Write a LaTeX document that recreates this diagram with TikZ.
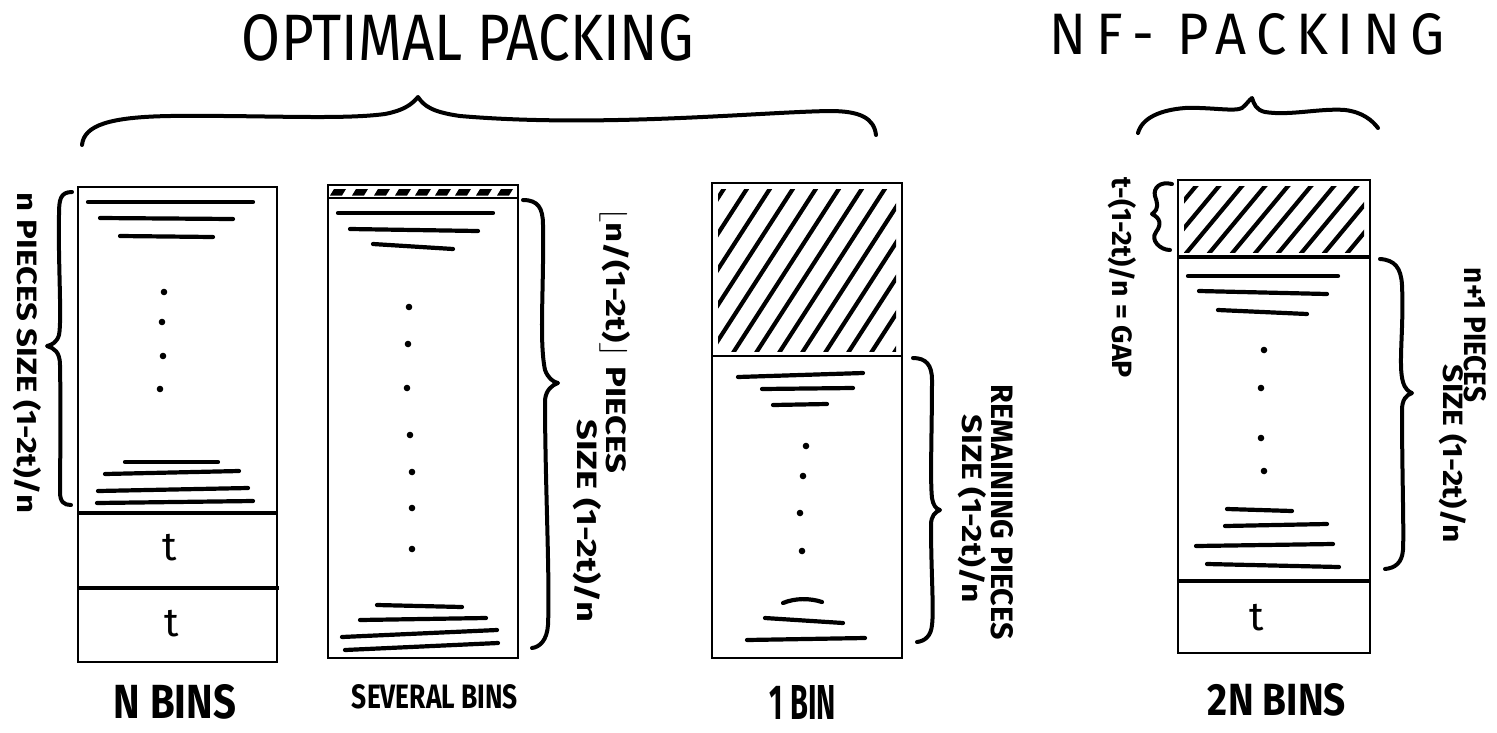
\documentclass[tikz,border=0pt]{standalone}
\usepackage{fontspec}
\setmainfont{Fira Sans}
\usepackage{graphicx}
\newcommand{\fitt}[3]{\resizebox{#1pt}{#2pt}{#3}}
\begin{document}
\begin{tikzpicture}[x=1pt,y=-1pt,
  binbox/.style={line width=2.5pt},
  divider/.style={line width=4pt},
  piece/.style={line width=4.2pt, line cap=round},
  bracestroke/.style={line width=4pt, line cap=round, line join=round},
  hatchline/.style={line width=4.2pt, line cap=round},
  lbl/.style={inner sep=0pt, font=\bfseries},
  ttl/.style={inner sep=0pt},
]
\useasboundingbox (0,0) rectangle (1497,732);

% ---------- titles ----------
\node[ttl] (t1) at (468,38) {\fitt{452}{46}{OPTIMAL PACKING}};
\node[ttl] (t2) at (1247,34) {\fitt{395}{41}{\addfontfeature{LetterSpace=18}NF- PACKING}};

% ---------- top braces ----------
\draw[bracestroke] (82,145) .. controls (84,125) and (110,117) .. (170,116)
  .. controls (260,115) and (340,120) .. (385,114)
  .. controls (405,110) and (412,104) .. (418,97)
  .. controls (424,106) and (432,112) .. (460,116)
  .. controls (600,128) and (760,112) .. (830,111)
  .. controls (860,111) and (874,118) .. (876,135);
\draw[bracestroke] (1138,133) .. controls (1142,118) and (1160,110) .. (1185,108)
  .. controls (1210,107) and (1235,112) .. (1242,108)
  .. controls (1247,104) and (1249,100) .. (1252,98)
  .. controls (1254,104) and (1256,110) .. (1265,112)
  .. controls (1290,116) and (1320,108) .. (1345,110)
  .. controls (1362,112) and (1372,120) .. (1378,128);

% ---------- bin 1 : N bins ----------
\draw[binbox] (78,187) rectangle (277,662);
\draw[divider] (78,513) -- (278,513);
\draw[divider] (78,588) -- (279,588);
\node[inner sep=0pt, font=\fontsize{40}{40}\selectfont] (b1t1) at (170,548) {t};
\node[inner sep=0pt, font=\fontsize{40}{40}\selectfont] (b1t2) at (172,624) {t};
\draw[piece] (88,202) -- (253,202);
\draw[piece] (100,218) -- (233,219);
\draw[piece] (120,236) -- (213,237);
\foreach \p in {(164,292),(162,322),(163,356),(160,389)} \fill \p circle (3.3);
\draw[piece] (125,462) -- (218,462);
\draw[piece] (105,474) -- (239,471);
\draw[piece] (98,491) -- (248,488);
\draw[piece] (97,503) -- (253,501);
\draw[bracestroke] (72,192) .. controls (60,192) and (59,200) .. (59,215)
  .. controls (58,260) and (62,320) .. (59,335)
  .. controls (57,342) and (52,345) .. (47,346)
  .. controls (54,348) and (60,352) .. (60,365)
  .. controls (61,420) and (60,470) .. (60,492)
  .. controls (60,502) and (64,505) .. (71,505);
\node[lbl, rotate=-90] (l1) at (27,353) {\fitt{320}{24}{n PIECES SIZE (1-2t)/n}};
\node[inner sep=0pt, font=\bfseries] (n1) at (175,702) {\fitt{122}{34}{N BINS}};

% ---------- bin 2 : several bins ----------
\draw[binbox] (328,185) rectangle (518,658);
\draw[binbox] (328,198) -- (518,198);
\foreach \c in {338,360,382,403,423,443,463,484,505}
  \fill (\c-8,195.5) -- (\c+4,195.5) -- (\c+8,189) -- (\c-4,189) -- cycle;
\draw[piece] (338,213) -- (493,213);
\draw[piece] (350,229) -- (478,231);
\draw[piece] (373,244) -- (453,249);
\foreach \p in {(409,307),(408,344),(407,388),(410,435),(412,472),(412,508),(412,549)} \fill \p circle (3.3);
\draw[piece] (377,605) -- (462,607);
\draw[piece] (360,620) -- (486,618);
\draw[piece] (342,637) -- (497,630);
\draw[piece] (345,650) -- (498,643);
\draw[bracestroke] (523,200) .. controls (538,200) and (543,208) .. (543,225)
  .. controls (544,290) and (539,340) .. (545,370)
  .. controls (548,378) and (553,382) .. (558,383)
  .. controls (552,385) and (546,390) .. (545,400)
  .. controls (545,480) and (550,580) .. (548,625)
  .. controls (547,640) and (540,647) .. (532,648);
\node[lbl, rotate=-90] (l2a) at (615,340) {\fitt{266}{24}{$\lfloor$n/(1-2t)$\rfloor$ PIECES}};
\node[lbl, rotate=-90] (l2b) at (587,521) {\fitt{203}{24}{SIZE (1-2t)/n}};
\node[lbl] (n2) at (435,697) {\fitt{166}{24}{SEVERAL BINS}};

% ---------- bin 3 : 1 bin ----------
\draw[binbox] (712,183) rectangle (902,658);
\draw[binbox] (712,356) -- (902,356);
\begin{scope}
  \clip (718,189) rectangle (896,351);
  \foreach \k in {-119,-96,...,200} \draw[hatchline] (712+\k,356) -- ++(111.6,-173);
\end{scope}
\draw[piece] (738,377) -- (863,373);
\draw[piece] (762,389) -- (853,388);
\draw[piece] (773,405) -- (827,404);
\foreach \p in {(806,446),(803,476),(800,513),(802,551)} \fill \p circle (3.3);
\draw[piece] (783,603) .. controls (795,598) and (810,598) .. (822,602);
\draw[piece] (765,618) -- (843,623);
\draw[piece] (747,640) -- (865,638);
\draw[bracestroke] (913,358) .. controls (926,358) and (932,365) .. (932,380)
  .. controls (932,430) and (930,480) .. (932,498)
  .. controls (933,505) and (936,509) .. (940,510)
  .. controls (935,512) and (931,516) .. (931,525)
  .. controls (931,570) and (934,610) .. (932,625)
  .. controls (931,636) and (925,641) .. (917,642);
\node[lbl, rotate=-90] (l3a) at (1002,512) {\fitt{255}{22}{REMAINING PIECES}};
\node[lbl, rotate=-90] (l3b) at (972,509) {\fitt{188}{24}{SIZE (1-2t)/n}};
\node[inner sep=0pt, font=\bfseries] (n3) at (803,702) {\fitt{66}{34}{1 BIN}};

% ---------- bin 4 : NF packing ----------
\draw[binbox] (1178,180) rectangle (1370,653);
\draw[divider] (1178,257) -- (1370,257);
\draw[divider] (1178,581) -- (1370,581);
\begin{scope}
  \clip (1184,186) rectangle (1364,252);
  \foreach \k in {-64,-41,...,200} \draw[hatchline] (1178+\k,257) -- ++(64,-77);
\end{scope}
\node[inner sep=0pt, font=\fontsize{40}{40}\selectfont] (b4t) at (1257,618) {t};
\draw[piece] (1188,276) -- (1338,276);
\draw[piece] (1199,291) -- (1327,294);
\draw[piece] (1218,310) -- (1307,314);
\foreach \p in {(1264,350),(1261,388),(1261,438),(1264,471)} \fill \p circle (3.3);
\draw[piece] (1227,509) -- (1292,511);
\draw[piece] (1225,526) -- (1327,524);
\draw[piece] (1196,546) -- (1333,544);
\draw[piece] (1207,564) -- (1339,567);
\draw[bracestroke] (1380,259) .. controls (1395,260) and (1401,268) .. (1402,285)
  .. controls (1404,330) and (1398,365) .. (1403,382)
  .. controls (1405,389) and (1409,392) .. (1412,393)
  .. controls (1406,395) and (1402,400) .. (1402,410)
  .. controls (1402,470) and (1404,530) .. (1403,550)
  .. controls (1402,563) and (1395,568) .. (1385,569);
\draw[bracestroke] (1172,184) .. controls (1160,181) and (1153,188) .. (1155,196)
  .. controls (1157,203) and (1160,208) .. (1152,214)
  .. controls (1160,218) and (1162,224) .. (1156,232)
  .. controls (1150,240) and (1160,250) .. (1170,250);
\node[lbl, rotate=-90] (l4a) at (1475,335) {\fitt{134}{22}{n+1 PIECES}};
\node[lbl, rotate=-90] (l4b) at (1453,454) {\fitt{178}{24}{SIZE (1-2t)/n}};
\node[lbl, rotate=-90] (l4g) at (1122,278) {\fitt{200}{24}{t-(1-2t)/n = GAP}};
\node[inner sep=0pt, font=\bfseries] (n4) at (1277,700) {\fitt{138}{32}{2N BINS}};
\end{tikzpicture}
\end{document}
